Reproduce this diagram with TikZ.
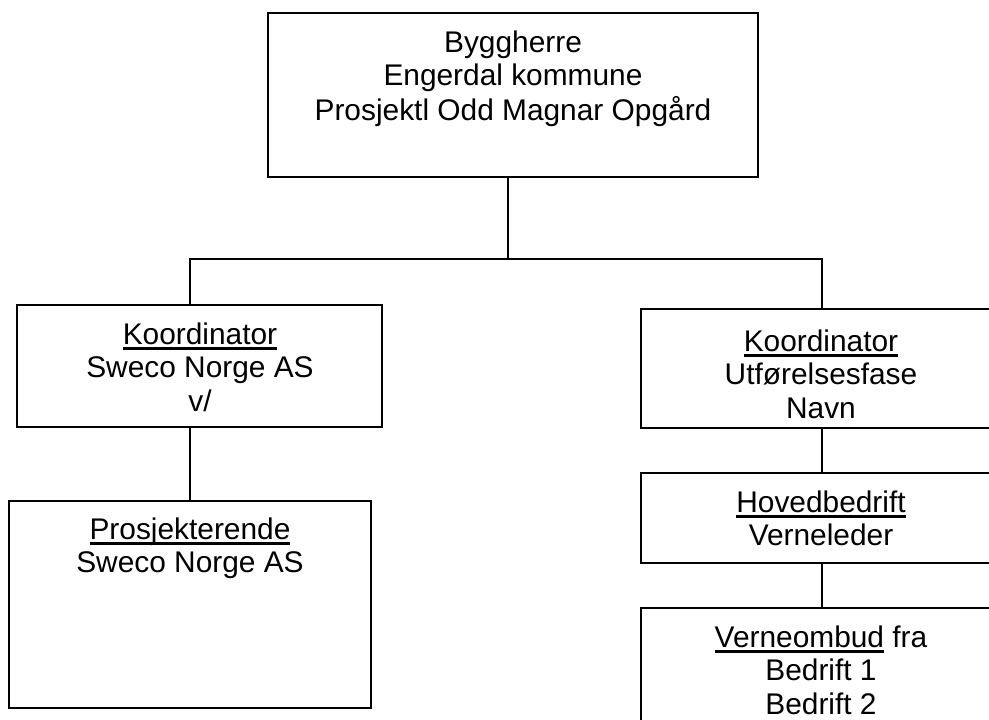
\documentclass[tikz,border=0pt]{standalone}
\usepackage{fontspec}
\setmainfont{Liberation Sans}
\newcommand{\myul}[1]{\setbox0\hbox{#1}\rlap{\rule[-4.3pt]{\wd0}{1.7pt}}\box0}
\newcommand{\lines}[1]{\begin{tabular}[t]{@{}c@{}}#1\end{tabular}}
\begin{document}
\begin{tikzpicture}[x=0.75pt,y=-0.75pt,
  box/.style={draw, line width=1.5pt, rectangle, inner sep=0pt},
  txt/.style={anchor=base, inner sep=0pt, font=\fontsize{22.4}{25.4}\selectfont},
  conn/.style={line width=1.5pt}]
\useasboundingbox (0,0) rectangle (989,719);
% boxes
\node[box, minimum width=367.5pt, minimum height=123pt] (top) at (513,95) {};
\node[box, minimum width=273.75pt, minimum height=91.5pt] (L1) at (199.5,366) {};
\node[box, minimum width=271.5pt, minimum height=155.25pt] (L2) at (190,604.5) {};
\node[box, minimum width=284.25pt, minimum height=89.25pt] (R1) at (830.5,368.5) {};
\node[box, minimum width=284.25pt, minimum height=67.5pt] (R2) at (830.5,518) {};
\node[box, minimum width=284.25pt, minimum height=129pt] (R3) at (830.5,694) {};
% texts
\node[txt] (topT) at (513,52) {\lines{Byggherre\\Engerdal kommune\\Prosjektl Odd Magnar Opgård}};
\node[txt] (L1T) at (200,344) {\lines{\myul{Koordinator}\\Sweco Norge AS\\v/}};
\node[txt] (L2T) at (190,539) {\lines{\myul{Prosjekterende}\\Sweco Norge AS}};
\node[txt] (R1T) at (821,351) {\lines{\myul{Koordinator}\\Utførelsesfase\\Navn}};
\node[txt] (R2T) at (821,512) {\lines{\myul{Hovedbedrift}\\Verneleder}};
\node[txt] (R3T) at (821,647) {\lines{\myul{Verneombud}\ fra\\Bedrift 1\\Bedrift 2}};
% connectors
\coordinate (hm) at (508,259);
\coordinate (hl) at (190,259);
\coordinate (hr) at (822,259);
\draw[conn] (top.south -| hm) -- (hm);
\draw[conn] (hl |- L1.north) -- (hl) -- (hr) -- (hr |- R1.north);
\draw[conn] (L1.south -| hl) -- (L2.north);
\draw[conn] (R1.south -| hr) -- (R2.north -| hr);
\draw[conn] (R2.south -| hr) -- (R3.north -| hr);
\end{tikzpicture}
\end{document}
